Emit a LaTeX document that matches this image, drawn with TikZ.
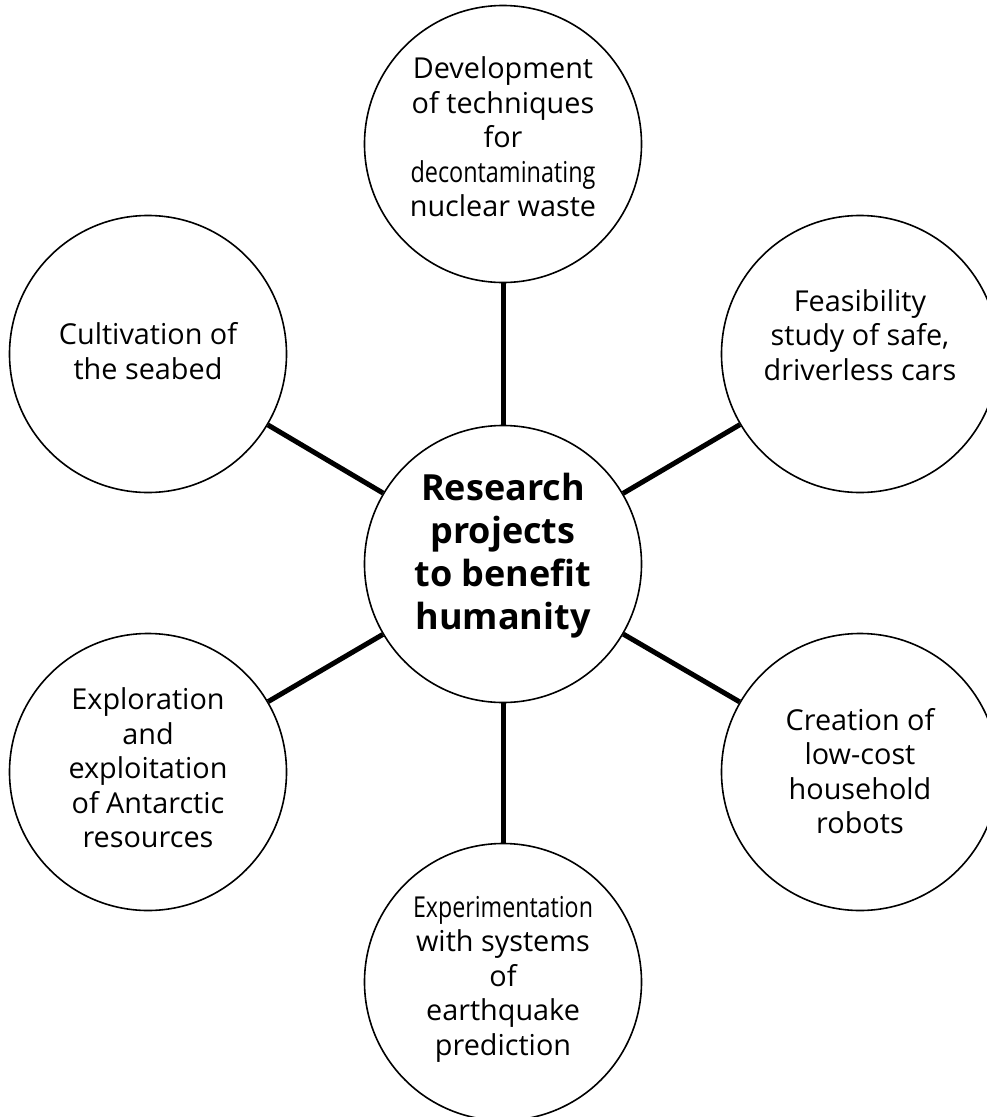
\documentclass[tikz,border=0pt]{standalone}
\usepackage{fontspec}
\usepackage{graphicx}
\setmainfont{Open Sans}
\begin{document}
\begin{tikzpicture}[x=1pt,y=-1pt,
  circ/.style={circle,draw=black,line width=1.6pt,minimum size=277pt,inner sep=0pt,fill=white},
  txt/.style={align=center,inner sep=0pt,font=\fontsize{28.8}{34.5}\selectfont},
  ctxt/.style={align=center,inner sep=0pt,font=\fontsize{36}{43}\selectfont\bfseries},
  conn/.style={line width=5pt,black}]
\clip (0,0) rectangle (987,1117);
\fill[white] (0,0) rectangle (987,1117);
% circles
\node[circ] (c)  at (503,564) {};
\node[circ] (t)  at (503,144) {};
\node[circ] (tl) at (148,354) {};
\node[circ] (tr) at (860,354) {};
\node[circ] (bl) at (148,772) {};
\node[circ] (br) at (860,772) {};
\node[circ] (b)  at (503,982) {};
% connectors
\draw[conn] (c) -- (t);
\draw[conn] (c) -- (tl);
\draw[conn] (c) -- (tr);
\draw[conn] (c) -- (bl);
\draw[conn] (c) -- (br);
\draw[conn] (c) -- (b);
% texts
\node[ctxt] (ct) at (503,556) {Research\\projects\\to benefit\\humanity};
\node[txt] (tt) at (503,137) {Development\\of techniques\\for\\\resizebox{185pt}{\height}{decontaminating}\\nuclear waste};
\node[txt] (tlt) at (148,351) {Cultivation of\\the seabed};
\node[txt] (trt) at (860,335) {Feasibility\\study of safe,\\driverless cars};
\node[txt] (blt) at (148,768) {Exploration\\and\\exploitation\\of Antarctic\\resources};
\node[txt] (brt) at (860,771) {Creation of\\low-cost\\household\\robots};
\node[txt] (bt) at (503,979) {\resizebox{180pt}{\height}{Experimentation}\\with systems\\of\\earthquake\\prediction};
\end{tikzpicture}
\end{document}
